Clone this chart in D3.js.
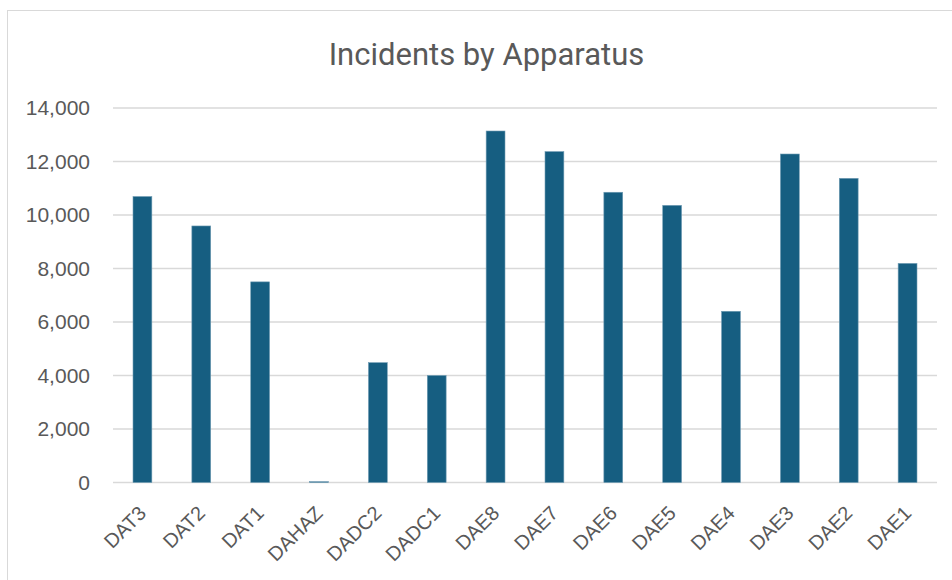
<!DOCTYPE html>
<html>
<head>
<meta charset="utf-8">
<script src="https://cdn.jsdelivr.net/npm/d3@7"></script>
<style>
  html, body { margin: 0; padding: 0; background: #fff; }
  svg { display: block; }
</style>
</head>
<body>
<svg id="chart" width="952" height="580"></svg>
<script>
// Incident counts per apparatus
const apparatus = ["DAT3", "DAT2", "DAT1", "DAHAZ", "DADC2", "DADC1", "DAE8", "DAE7", "DAE6", "DAE5", "DAE4", "DAE3", "DAE2", "DAE1"];
const incidents = [10690, 9590, 7500, 30, 4480, 4000, 13140, 12370, 10850, 10360, 6400, 12280, 11370, 8190];
const yTicks = [0, 2000, 4000, 6000, 8000, 10000, 12000, 14000];
const chartTitle = "Incidents by Apparatus";

const svg = d3.select("#chart");
const W = 952, H = 580;
const margin = { left: 113, right: 15, top: 108, bottom: 97.5 };
const labelFont = "'Liberation Sans', Arial, sans-serif";

// outer frame
svg.append("rect")
  .attr("x", 7.5).attr("y", 10.5)
  .attr("width", W - 7).attr("height", H)
  .attr("fill", "#fff").attr("stroke", "#d9d9d9").attr("stroke-width", 1);

const x = d3.scaleBand()
  .domain(apparatus)
  .range([margin.left, W - margin.right])
  .paddingInner(0.68).paddingOuter(0.34);

const y = d3.scaleLinear()
  .domain([0, 14000])
  .range([H - margin.bottom, margin.top]);

// gridlines
svg.append("g")
  .selectAll("line")
  .data(yTicks)
  .join("line")
  .attr("x1", margin.left).attr("x2", W - margin.right)
  .attr("y1", d => y(d)).attr("y2", d => y(d))
  .attr("stroke", "#d9d9d9").attr("stroke-width", 1.5);

// y axis labels
const yAxis = d3.axisLeft(y).tickValues(yTicks).tickFormat(d3.format(",")).tickSize(0).tickPadding(23);
const gy = svg.append("g").attr("transform", `translate(${margin.left},0)`).call(yAxis);
gy.select(".domain").remove();
gy.selectAll("text")
  .attr("font-family", labelFont)
  .attr("font-size", 21).attr("fill", "#595959");

// bars
svg.append("g")
  .selectAll("rect")
  .data(apparatus)
  .join("rect")
  .attr("x", d => x(d))
  .attr("width", x.bandwidth())
  .attr("y", (d, i) => y(incidents[i]))
  .attr("height", (d, i) => y(0) - y(incidents[i]))
  .attr("fill", "#165e81")
  .attr("stroke", "#6f9bb3").attr("stroke-width", 0.6);

// x axis labels, rotated
const xAxis = d3.axisBottom(x).tickSize(0).tickPadding(0);
const gx = svg.append("g").attr("transform", `translate(0,${y(0)})`).call(xAxis);
gx.select(".domain").remove();
gx.selectAll("text")
  .attr("font-family", labelFont)
  .attr("font-size", 20).attr("fill", "#595959")
  .attr("text-anchor", "end")
  .attr("dy", null).attr("y", 0)
  .attr("transform", "translate(5,32) rotate(-45)");

// title
svg.append("text")
  .attr("x", 486.5).attr("y", 65)
  .attr("text-anchor", "middle")
  .attr("font-family", "Roboto, 'Liberation Sans', sans-serif")
  .attr("font-size", 31)
  .attr("fill", "#595959")
  .text(chartTitle);
</script>
</body>
</html>
